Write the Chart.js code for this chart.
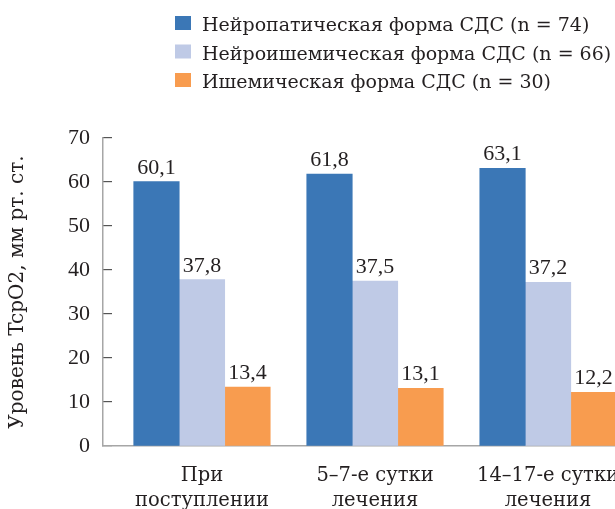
<!DOCTYPE html>
<html>
<head>
<meta charset="utf-8">
<script src="https://cdn.jsdelivr.net/npm/chart.js@4.4.0/dist/chart.umd.min.js"></script>
<style>
  html, body { margin: 0; padding: 0; background: #fff; overflow: hidden; }
  #wrap { width: 615px; height: 509px; position: relative; }
</style>
</head>
<body>
<div id="wrap"><canvas id="chart"></canvas></div>
<script>
// TcpO2 by diabetic foot form, three time points
const categories = [['При', 'поступлении'], ['5–7-е сутки', 'лечения'], ['14–17-е сутки', 'лечения']];
const seriesNames = [
  'Нейропатическая форма СДС (n = 74)',
  'Нейроишемическая форма СДС (n = 66)',
  'Ишемическая форма СДС (n = 30)'
];
const neuropathic = [60.1, 61.8, 63.1];
const neuroischemic = [37.8, 37.5, 37.2];
const ischemic = [13.4, 13.1, 12.2];
const yTicks = [0, 10, 20, 30, 40, 50, 60, 70];
const colors = ['#3b77b6', '#bfcae6', '#f89c4f'];

const NUMFONT = '"Liberation Serif", serif';
const WORDFONT = '"DejaVu Serif", serif';
const TEXT = '#231f20';
const AXIS = '#a6a6a6';

function points(arr) { return arr.map((v, i) => ({ x: i, y: v })); }

// value labels above each bar, comma decimal
const valueLabels = {
  id: 'valueLabels',
  afterDatasetsDraw(chart) {
    const ctx = chart.ctx;
    ctx.save();
    ctx.font = '22px ' + NUMFONT;
    ctx.fillStyle = TEXT;
    ctx.textAlign = 'center';
    ctx.textBaseline = 'alphabetic';
    chart.data.datasets.forEach((ds, i) => {
      chart.getDatasetMeta(i).data.forEach((bar, j) => {
        ctx.fillText(ds.data[j].y.toFixed(1).replace('.', ','), bar.x, bar.y - 8);
      });
    });
    ctx.restore();
  }
};

// stacked legend at top right
const legendBox = {
  id: 'legendBox',
  afterDraw(chart) {
    const ctx = chart.ctx;
    ctx.save();
    ctx.font = '19px ' + WORDFONT;
    ctx.textBaseline = 'alphabetic';
    chart.data.datasets.forEach((ds, i) => {
      const y = 31 + i * 28.5;
      ctx.fillStyle = ds.backgroundColor;
      ctx.fillRect(175, y - 15, 16, 14);
      ctx.fillStyle = TEXT;
      ctx.fillText(ds.label, 202, y);
    });
    ctx.restore();
  }
};

new Chart(document.getElementById('chart'), {
  type: 'bar',
  data: {
    datasets: [
      { label: seriesNames[0], data: points(neuropathic), backgroundColor: colors[0] },
      { label: seriesNames[1], data: points(neuroischemic), backgroundColor: colors[1] },
      { label: seriesNames[2], data: points(ischemic), backgroundColor: colors[2] }
    ]
  },
  options: {
    responsive: true, maintainAspectRatio: false, animation: false,
    barThickness: 45.5,
    layout: { padding: { top: 138, left: 0, right: 0, bottom: 0 } },
    scales: {
      x: {
        type: 'linear', min: -0.572, max: 2.387, offset: false,
        afterBuildTicks: s => { s.ticks = categories.map((c, i) => ({ value: i })); },
        afterFit: s => { s.height = 63; s.paddingLeft = 0; s.paddingRight = 0; },
        grid: { display: false },
        border: { display: true, color: AXIS, width: 1.5 },
        ticks: {
          autoSkip: false, maxRotation: 0, minRotation: 0, padding: 9,
          color: TEXT, font: { family: WORDFONT, size: 19.5, lineHeight: 1.28 },
          callback: v => categories[v]
        }
      },
      y: {
        min: 0, max: 70,
        afterBuildTicks: s => { s.ticks = yTicks.map(v => ({ value: v })); },
        afterFit: s => { s.width = 103; },
        grid: { display: true, drawOnChartArea: false, drawTicks: true, tickLength: -9, color: '#555', lineWidth: 1.2 },
        border: { display: true, color: AXIS, width: 1.5 },
        ticks: { padding: 22, color: TEXT, font: { family: NUMFONT, size: 22 } },
        title: { display: true, text: 'Уровень TcpO2, мм рт. ст.', color: TEXT, font: { family: WORDFONT, size: 20 }, padding: { top: 6, bottom: 4 } }
      }
    },
    plugins: { legend: { display: false }, tooltip: { enabled: false } }
  },
  plugins: [valueLabels, legendBox]
});
</script>
</body>
</html>
